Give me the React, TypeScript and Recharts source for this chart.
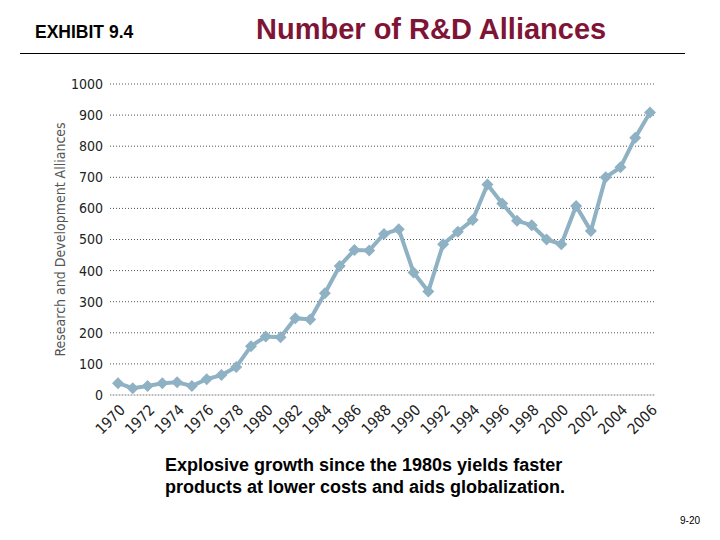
import { LineChart, Line, XAxis, YAxis, CartesianGrid } from 'recharts';

const years = [
  1970, 1971, 1972, 1973, 1974, 1975, 1976, 1977, 1978, 1979,
  1980, 1981, 1982, 1983, 1984, 1985, 1986, 1987, 1988, 1989,
  1990, 1991, 1992, 1993, 1994, 1995, 1996, 1997, 1998, 1999,
  2000, 2001, 2002, 2003, 2004, 2005, 2006,
];

const alliances = [
  38, 22, 29, 38, 41, 29, 51, 64, 90, 157,
  188, 186, 247, 243, 327, 415, 466, 465, 518, 533,
  394, 333, 485, 525, 563, 677, 616, 560, 546, 500,
  485, 608, 527, 700, 732, 827, 908,
];

const yTicks = [0, 100, 200, 300, 400, 500, 600, 700, 800, 900, 1000];

const data = years.map((year, i) => ({ year, value: alliances[i] }));

const axisFont = '"DejaVu Sans", sans-serif';

const Diamond = (props: any) => {
  const { cx, cy } = props;
  if (cx == null || cy == null) return null;
  const r = 6;
  return (
    <polygon
      points={`${cx},${cy - r} ${cx + r},${cy} ${cx},${cy + r} ${cx - r},${cy}`}
      fill="#8fb1c4"
    />
  );
};

const YearTick = (props: any) => {
  const { x, y, payload } = props;
  return (
    <g transform={`translate(${x + 8},${y + 8})`}>
      <text
        textAnchor="end"
        transform="rotate(-45)"
        fontSize={15}
        fontFamily={axisFont}
        style={{ fontStretch: 'condensed' }}
        fill="#222"
      >
        {payload.value}
      </text>
    </g>
  );
};

export default function App() {
  return (
    <div style={{ position: 'absolute', left: 0, top: 0, width: 720, height: 540, background: '#fff', fontFamily: 'Arial, "Liberation Sans", sans-serif' }}>
      <div style={{ position: 'absolute', left: 35, top: 22, fontSize: 17.5, fontWeight: 'bold', color: '#000' }}>
        EXHIBIT 9.4
      </div>
      <div style={{ position: 'absolute', left: 256, top: 13, fontSize: 29, fontWeight: 'bold', color: '#7f1536' }}>
        Number of R&amp;D Alliances
      </div>
      <div style={{ position: 'absolute', left: 20, top: 53, width: 665, height: 1, background: '#000' }} />

      <div style={{ position: 'absolute', left: 0, top: 0 }}>
        <LineChart
          width={720}
          height={540}
          data={data}
          margin={{ top: 84, right: 65, bottom: 95, left: 60 }}
        >
          <CartesianGrid vertical={false} stroke="#555" strokeDasharray="1 2" />
          <XAxis
            dataKey="year"
            type="category"
            interval={1}
            height={50}
            tickLine={false}
            stroke="#cccccc"
            padding={{ left: 8, right: 5 }}
            tick={<YearTick />}
          />
          <YAxis
            domain={[0, 1000]}
            ticks={yTicks}
            width={50}
            axisLine={false}
            tickLine={false}
            tickMargin={1}
            tick={{ fontSize: 14, fontFamily: axisFont, fill: '#222', style: { fontStretch: 'condensed' } }}
            label={{
              value: 'Research and Development Alliances',
              angle: -90,
              position: 'insideLeft',
              offset: 0,
              dx: 0,
              dy: 0,
              style: { fontSize: 14, fontFamily: axisFont, fontStretch: 'condensed', fill: '#555', textAnchor: 'middle' },
            }}
          />
          <Line
            dataKey="value"
            stroke="#8fb1c4"
            strokeWidth={4}
            dot={<Diamond />}
            isAnimationActive={false}
          />
        </LineChart>
      </div>

      <div style={{ position: 'absolute', left: 165, top: 454, fontSize: 18, fontWeight: 'bold', lineHeight: '22px', color: '#000' }}>
        Explosive growth since the 1980s yields faster
        <br />
        products at lower costs and aids globalization.
      </div>
      <div style={{ position: 'absolute', left: 680, top: 515, fontSize: 10, color: '#000' }}>9-20</div>
    </div>
  );
}
